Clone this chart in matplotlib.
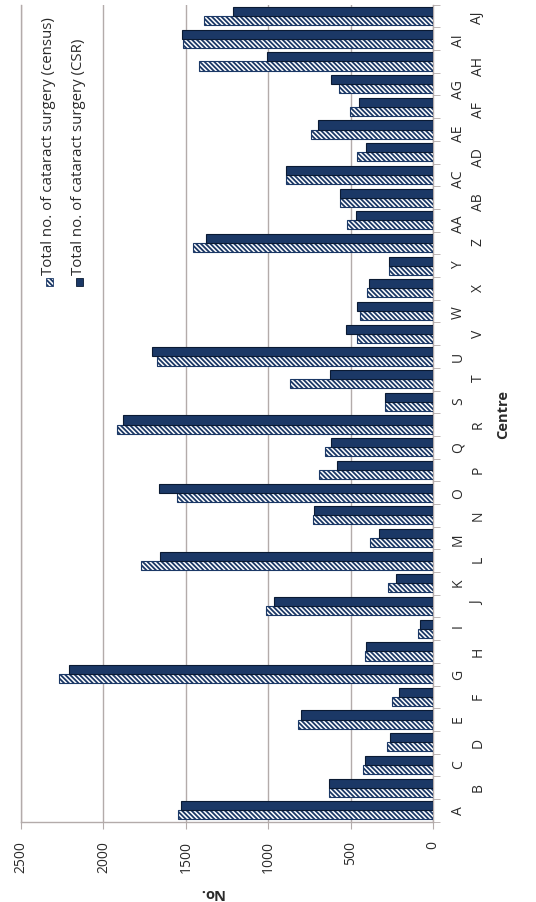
import numpy as np
import matplotlib
matplotlib.use("Agg")
import matplotlib.pyplot as plt
from matplotlib.patches import Rectangle

centres = ["A", "B", "C", "D", "E", "F", "G", "H", "I", "J", "K", "L", "M", "N",
           "O", "P", "Q", "R", "S", "T", "U", "V", "W", "X", "Y", "Z",
           "AA", "AB", "AC", "AD", "AE", "AF", "AG", "AH", "AI", "AJ"]
census = [1545, 632, 424, 279, 822, 248, 2268, 414, 91, 1016, 273, 1774, 384, 727,
          1553, 691, 657, 1915, 289, 869, 1672, 461, 444, 400, 267, 1455,
          521, 562, 893, 460, 743, 505, 570, 1418, 1515, 1389]
csr = [1529, 632, 414, 263, 804, 208, 2206, 408, 81, 963, 222, 1654, 329, 721,
       1662, 580, 616, 1883, 289, 626, 1703, 525, 461, 389, 267, 1380,
       468, 562, 893, 408, 697, 450, 616, 1010, 1521, 1212]
value_ticks = [0, 500, 1000, 1500, 2000, 2500]

navy = "#1b3866"
grey = "#b3abaa"
txt = "#2a2a2a"
hatch = "\\\\\\\\\\\\\\"

plt.rcParams["font.family"] = ["Open Sans", "DejaVu Sans"]
plt.rcParams["hatch.linewidth"] = 1.3

W, H = 536, 903
fig = plt.figure(figsize=(W / 100, H / 100), dpi=100)
ax = fig.add_axes([21 / W, 80.3 / H, 412 / W, 817 / H])

y = np.arange(len(centres))
ax.barh(y - 0.2, census, height=0.4, color="white", edgecolor=navy,
        hatch=hatch, linewidth=0.8, zorder=3)
ax.barh(y + 0.2, csr, height=0.4, color=navy, edgecolor="#0a1a33",
        linewidth=0.8, zorder=3)

ax.set_xlim(2500, 0)
ax.set_ylim(-0.5, len(centres) - 0.5)
ax.set_xticks(value_ticks)
ax.set_xticklabels([str(v) for v in value_ticks])
ax.xaxis.grid(True, color=grey, linewidth=1)
ax.set_axisbelow(True)

for side in ["left", "right", "bottom"]:
    ax.spines[side].set_color(grey)
    ax.spines[side].set_linewidth(1)
ax.spines["top"].set_visible(False)

ax.tick_params(axis="x", direction="out", length=5, color=grey, pad=8,
               labelsize=10, labelcolor=txt, labelrotation=90)

ax.yaxis.tick_right()
ax.set_yticks(y)
ax.set_yticklabels(centres)
ax.set_yticks(np.arange(-0.5, len(centres), 1), minor=True)
ax.tick_params(axis="y", which="major", length=0, labelsize=10,
               labelcolor=txt, labelrotation=90)
ax.tick_params(axis="y", which="minor", length=5, color=grey,
               right=True, left=False)
for i, t in enumerate(ax.yaxis.get_major_ticks()):
    t.set_pad(13 if i % 2 == 0 else 27)

ax.text(0.461, -0.086, "No.", transform=ax.transAxes, rotation=180,
        ha="center", va="center", fontsize=10.5, fontweight="bold", color=txt)
ax.text(1.170, 0.50, "Centre", transform=ax.transAxes, rotation=90,
        ha="center", va="center", fontsize=10.5, fontweight="bold", color=txt)

# legend drawn by hand (rotated with the chart)
entries = [("Total no. of cataract surgery (census)", 49, dict(facecolor="white", edgecolor=navy, hatch=hatch)),
           ("Total no. of cataract surgery (CSR)", 79, dict(facecolor=navy, edgecolor="#0a1a33"))]
for label, xc, style in entries:
    fig.patches.append(Rectangle(((xc - 3.5) / W, 1 - 287 / H), 7 / W, 8 / H,
                                 transform=fig.transFigure, linewidth=0.6, **style))
    fig.text(xc / W, 1 - 275 / H, label, rotation=90, ha="center", va="bottom",
             fontsize=10.8, color=txt)

fig.savefig("out.png", dpi=100)
